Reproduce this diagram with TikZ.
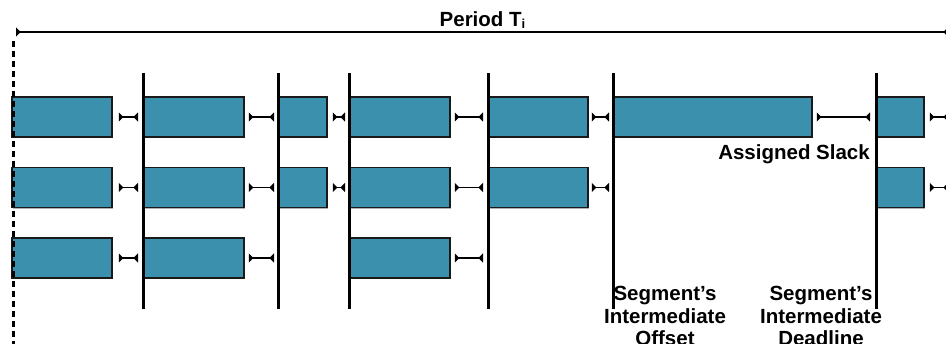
\documentclass[tikz,border=0pt]{standalone}
\usepackage{fontspec}
\setmainfont{Liberation Sans}
\usetikzlibrary{arrows.meta,shadows}
\definecolor{segblue}{RGB}{58,144,173}
\tikzset{
  seg/.style={draw=black!90, line width=1.5pt, fill=segblue, minimum height=40pt, inner sep=0pt,
    drop shadow={shadow xshift=1pt, shadow yshift=-1.5pt, opacity=0.3, fill=black}},
  slack/.style={line width=1.3pt, {Triangle[reversed,length=4.5pt,width=9pt]}-{Triangle[reversed,length=4.5pt,width=9pt]}},
  bar/.style={line width=3pt},
  dashline/.style={line width=3pt, dash pattern=on 6pt off 4pt},
  lbl/.style={font=\bfseries\fontsize{20.5}{22.7}\selectfont, inner sep=0pt}
}
\begin{document}
\begin{tikzpicture}[x=1pt,y=-1pt]
\useasboundingbox (0,0) rectangle (946,344);
\clip (0,0) rectangle (946,344);
% coordinates
\coordinate (P1) at (16,32);
\coordinate (P2) at (948,32);
\coordinate (D1) at (13,41);
\coordinate (D2) at (13,346);
\coordinate (R) at (948,0);
\foreach \n/\x in {1/143,2/278,3/349,4/488,5/613,6/876}{
  \coordinate (L\n) at (\x,73);
  \coordinate (L\n b) at (\x,309);
}
% row 1
\node[seg, minimum width=100pt] (a1) at (62,117) {};
\node[seg, minimum width=100pt] (a2) at (194,117) {};
\node[seg, minimum width=48pt]  (a3) at (303,117) {};
\node[seg, minimum width=100pt] (a4) at (400,117) {};
\node[seg, minimum width=99pt]  (a5) at (538.5,117) {};
\node[seg, minimum width=198pt] (a6) at (713,117) {};
\node[seg, minimum width=47pt]  (a7) at (900.5,117) {};
% row 2
\node[seg, minimum width=100pt] (b1) at (62,187.5) {};
\node[seg, minimum width=100pt] (b2) at (194,187.5) {};
\node[seg, minimum width=48pt]  (b3) at (303,187.5) {};
\node[seg, minimum width=100pt] (b4) at (400,187.5) {};
\node[seg, minimum width=99pt]  (b5) at (538.5,187.5) {};
\node[seg, minimum width=47pt]  (b7) at (900.5,187.5) {};
% row 3
\node[seg, minimum width=100pt] (c1) at (62,258) {};
\node[seg, minimum width=100pt] (c2) at (194,258) {};
\node[seg, minimum width=100pt] (c4) at (400,258) {};
% vertical lines
\foreach \n in {1,...,6}{ \draw[bar] (L\n) -- (L\n b); }
\draw[dashline] (D1) -- (D2);
% period
\draw[slack] (P1) -- (P2);
\node[lbl, anchor=base] (per) at (482.5,26.7) {Period T\raisebox{-1.5pt}{\fontsize{13}{13}\selectfont i}};
% slack connectors row 1
\draw[slack] ([xshift=6pt]a1.east) -- ([xshift=-5pt]a1.east -| L1);
\draw[slack] ([xshift=4pt]a2.east) -- ([xshift=-4pt]a2.east -| L2);
\draw[slack] ([xshift=5pt]a3.east) -- ([xshift=-4pt]a3.east -| L3);
\draw[slack] ([xshift=4pt]a4.east) -- ([xshift=-5pt]a4.east -| L4);
\draw[slack] ([xshift=3pt]a5.east) -- ([xshift=-4pt]a5.east -| L5);
\draw[slack] ([xshift=4pt]a6.east) -- ([xshift=-6pt]a6.east -| L6);
\draw[slack] ([xshift=5pt]a7.east) -- (a7.east -| R);
% row 2
\draw[slack] ([xshift=6pt]b1.east) -- ([xshift=-5pt]b1.east -| L1);
\draw[slack] ([xshift=4pt]b2.east) -- ([xshift=-4pt]b2.east -| L2);
\draw[slack] ([xshift=5pt]b3.east) -- ([xshift=-4pt]b3.east -| L3);
\draw[slack] ([xshift=4pt]b4.east) -- ([xshift=-5pt]b4.east -| L4);
\draw[slack] ([xshift=3pt]b5.east) -- ([xshift=-4pt]b5.east -| L5);
\draw[slack] ([xshift=5pt]b7.east) -- (b7.east -| R);
% row 3
\draw[slack] ([xshift=6pt]c1.east) -- ([xshift=-5pt]c1.east -| L1);
\draw[slack] ([xshift=4pt]c2.east) -- ([xshift=-4pt]c2.east -| L2);
\draw[slack] ([xshift=4pt]c4.east) -- ([xshift=-5pt]c4.east -| L4);
% labels
\node[lbl, anchor=base east] (as) at (870,160) {Assigned Slack};
\node[lbl, anchor=north, align=center] (off) at (665,286) {Segment’s\\Intermediate\\Offset};
\node[lbl, anchor=north, align=center] (dl) at (821,286) {Segment’s\\Intermediate\\Deadline};
\end{tikzpicture}
\end{document}
